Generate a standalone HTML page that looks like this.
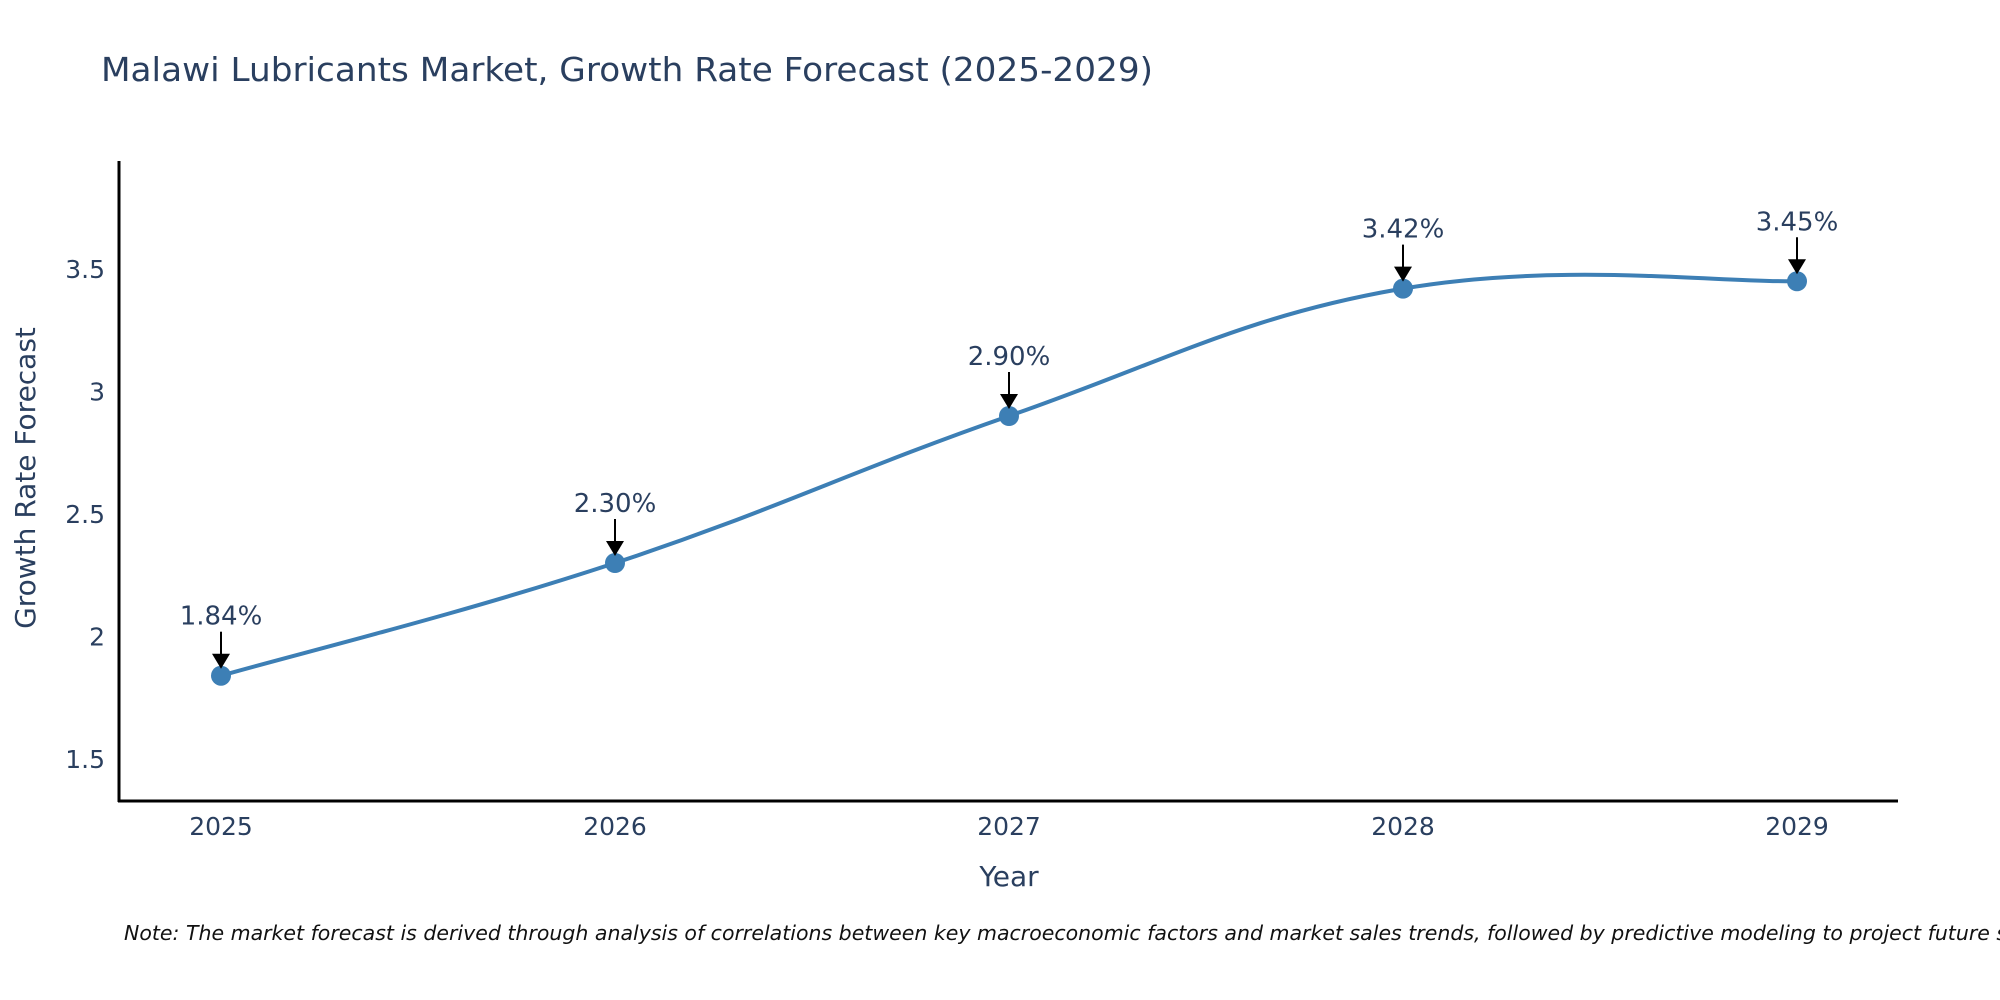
<!DOCTYPE html>
<html><head><meta charset="utf-8"><style>
html,body{margin:0;padding:0;background:#fff;}
svg{display:block;font-family:"DejaVu Sans","Liberation Sans",sans-serif;}
</style></head><body>
<svg id="chart" width="2000" height="1000" viewBox="0 0 2000 1000" xmlns="http://www.w3.org/2000/svg">
<text x="101" y="81" font-size="33" fill="#2a3f5f" textLength="1052" lengthAdjust="spacingAndGlyphs">Malawi Lubricants Market, Growth Rate Forecast (2025-2029)</text>
<g id="ticks"></g>
<path id="line" fill="none" stroke="#3d7fb5" stroke-width="4"/>
<g id="points"></g>
<line x1="119" y1="161" x2="119" y2="802" stroke="#000" stroke-width="3"/>
<line x1="118" y1="801" x2="1898" y2="801" stroke="#000" stroke-width="3"/>
<text x="1009" y="886" font-size="28" fill="#2a3f5f" text-anchor="middle">Year</text>
<text transform="translate(35,478) rotate(-90)" font-size="28" fill="#2a3f5f" text-anchor="middle">Growth Rate Forecast</text>
<text x="124" y="940" font-size="20.5" font-style="italic" fill="#111">Note: The market forecast is derived through analysis of correlations between key macroeconomic factors and market sales trends, followed by predictive modeling to project future sales.</text>
</svg>
<script>
const years = [2025, 2026, 2027, 2028, 2029];
const growth = [1.84, 2.30, 2.90, 3.42, 3.45];
const labels = ["1.84%", "2.30%", "2.90%", "3.42%", "3.45%"];
const yTicks = [1.5, 2, 2.5, 3, 3.5];
const yTickLabels = ["1.5", "2", "2.5", "3", "3.5"];

const NS = "http://www.w3.org/2000/svg";
function xs(v){ return 221 + (v - 2025) * 394; }
function ys(v){ return 759 - (v - 1.5) * 245; }
function mk(tag, attrs, parent){
  const e = document.createElementNS(NS, tag);
  for (const k in attrs) e.setAttribute(k, attrs[k]);
  parent.appendChild(e); return e;
}
const ticks = document.getElementById('ticks');
yTicks.forEach((t,i)=>{
  const tx = mk('text',{x:105,y:ys(t)+9,'font-size':25,fill:'#2a3f5f','text-anchor':'end'},ticks);
  
  
  tx.textContent = yTickLabels[i];
});
years.forEach((yr)=>{
  const tx = mk('text',{x:xs(yr),y:835,'font-size':25,fill:'#2a3f5f','text-anchor':'middle'},ticks);
  
  
  tx.textContent = String(yr);
});
const P = years.map((y,i)=>[xs(y), ys(growth[i])]);
let d = `M${P[0][0]},${P[0][1]}`;
const k = 1/5;
for (let i=0;i<P.length-1;i++){
  const p0 = P[Math.max(0,i-1)], p1 = P[i], p2 = P[i+1], p3 = P[Math.min(P.length-1,i+2)];
  const c1 = [p1[0]+(p2[0]-p0[0])*k, p1[1]+(p2[1]-p0[1])*k];
  const c2 = [p2[0]-(p3[0]-p1[0])*k, p2[1]-(p3[1]-p1[1])*k];
  d += ` C${c1[0]},${c1[1]} ${c2[0]},${c2[1]} ${p2[0]},${p2[1]}`;
}
document.getElementById('line').setAttribute('d', d);
const pts = document.getElementById('points');
P.forEach((p,i)=>{
  const c = mk('circle',{cx:p[0],cy:p[1],r:10,fill:'#3d7fb5'},pts);
  
  
  mk('line',{x1:p[0],y1:p[1]-44,x2:p[0],y2:p[1]-20,stroke:'#000','stroke-width':2},pts);
  const a = mk('polygon',{points:`${p[0]-9},${p[1]-22} ${p[0]+9},${p[1]-22} ${p[0]},${p[1]-7}`,fill:'#000'},pts);
  
  
  const t = mk('text',{x:p[0],y:p[1]-51,'font-size':26,fill:'#2a3f5f','text-anchor':'middle'},pts);
  
  
  t.textContent = labels[i];
});
</script>
</body></html>
